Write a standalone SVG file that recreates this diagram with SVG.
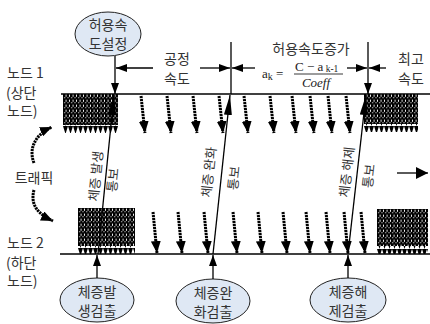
<svg xmlns="http://www.w3.org/2000/svg" width="430" height="324" viewBox="0 0 430 324">
<style>
.lbl{font-family:"Noto Sans CJK KR","Noto Sans",sans-serif;font-size:14px;fill:#333;}
.rot{font-family:"Noto Sans CJK KR","Noto Sans",sans-serif;font-size:13px;fill:#333;}
.fm{font-family:"Liberation Serif",serif;font-size:13px;fill:#222;}
.ln{stroke:#000;stroke-width:1.3;fill:none;}
.dot{stroke:#000;stroke-width:3;stroke-dasharray:2.2 0.8;fill:none;}
.ell{fill:#dfe8f4;stroke:#222;stroke-width:1;}
</style>
<defs>
<marker id="sh" viewBox="0 0 12 10" refX="12" refY="5" markerWidth="12" markerHeight="10" markerUnits="userSpaceOnUse" orient="auto"><path d="M0,0 L12,5 L0,10 z" fill="#000" stroke="none"/></marker>
<marker id="bh" viewBox="0 0 20 8" refX="20" refY="4" markerWidth="20" markerHeight="8" markerUnits="userSpaceOnUse" orient="auto"><path d="M0,0 L20,4 L0,8 z" fill="#000" stroke="none"/></marker>
<marker id="mh" viewBox="0 0 11 8" refX="11" refY="4" markerWidth="11" markerHeight="8" markerUnits="userSpaceOnUse" orient="auto"><path d="M0,0 L11,4 L0,8 z" fill="#000" stroke="none"/></marker>
<marker id="rh" viewBox="0 0 12 12" refX="12" refY="6" markerWidth="12" markerHeight="12" markerUnits="userSpaceOnUse" orient="auto"><path d="M0,0 L12,6 L0,12 z" fill="#000" stroke="none"/></marker>
<pattern id="hatch" width="3.5" height="5" patternUnits="userSpaceOnUse"><rect width="3.5" height="5" fill="#000"/><rect x="2.6" y="0.6" width="0.9" height="2.2" fill="#fff"/><rect x="0.9" y="3.4" width="1.3" height="0.8" fill="#fff"/></pattern>
<pattern id="tri" width="5" height="8" patternUnits="userSpaceOnUse"><polygon points="0,0 5,0 2.5,8" fill="#000"/></pattern>
</defs>

<g id="node1">
<line class="ln" x1="61" y1="94" x2="430" y2="94"/>
<text class="lbl" x="7" y="72" dominant-baseline="central">노드 1</text>
<text class="lbl" x="6" y="92" dominant-baseline="central">(상단</text>
<text class="lbl" x="7" y="110" dominant-baseline="central">노드)</text>
</g>
<g id="node2">
<line class="ln" x1="60" y1="254" x2="430" y2="254"/>
<text class="lbl" x="7" y="242" dominant-baseline="central">노드 2</text>
<text class="lbl" x="6" y="262" dominant-baseline="central">(하단</text>
<text class="lbl" x="7" y="280" dominant-baseline="central">노드)</text>
</g>

<g id="block-top-left" transform="translate(63,94)">
<rect x="0" y="0" width="55" height="31" fill="url(#hatch)"/>
<rect x="0" y="31" width="55" height="8" fill="url(#tri)"/>
</g>
<g id="block-top-right" transform="translate(364,94)">
<rect x="0" y="0" width="54" height="30" fill="url(#hatch)"/>
<rect x="0" y="30" width="54" height="8" fill="url(#tri)"/>
</g>
<g id="block-bottom-left" transform="translate(78,208)">
<rect x="0" y="0" width="57" height="38" fill="url(#hatch)"/>
<rect x="0" y="38" width="57" height="8" fill="url(#tri)"/>
</g>
<g id="block-bottom-right" transform="translate(377,209)">
<rect x="0" y="0" width="51" height="37" fill="url(#hatch)"/>
<rect x="0" y="37" width="51" height="8" fill="url(#tri)"/>
</g>

<g id="set-speed">
<ellipse class="ell" cx="108" cy="34" rx="33" ry="22"/>
<text class="lbl" x="108" y="24" text-anchor="middle" dominant-baseline="central" font-size="13">허용속</text>
<text class="lbl" x="108" y="43" text-anchor="middle" dominant-baseline="central" font-size="13">도설정</text>
</g>
<g id="detect-occur">
<ellipse class="ell" cx="97" cy="300" rx="37" ry="22"/>
<text class="lbl" x="97" y="291" text-anchor="middle" dominant-baseline="central">체증발</text>
<text class="lbl" x="97" y="310" text-anchor="middle" dominant-baseline="central">생검출</text>
</g>
<g id="detect-relief">
<ellipse class="ell" cx="213" cy="301" rx="37" ry="22"/>
<text class="lbl" x="213" y="292" text-anchor="middle" dominant-baseline="central">체증완</text>
<text class="lbl" x="213" y="311" text-anchor="middle" dominant-baseline="central">화검출</text>
</g>
<g id="detect-clear">
<ellipse class="ell" cx="348" cy="300" rx="38" ry="22"/>
<text class="lbl" x="348" y="291" text-anchor="middle" dominant-baseline="central">체증해</text>
<text class="lbl" x="348" y="310" text-anchor="middle" dominant-baseline="central">제검출</text>
</g>

<g id="labels">
<text class="lbl" x="177" y="58" text-anchor="middle" dominant-baseline="central">공정</text>
<text class="lbl" x="177" y="78" text-anchor="middle" dominant-baseline="central">속도</text>
<text class="lbl" x="311" y="48" text-anchor="middle" dominant-baseline="central" font-size="14">허용속도증가</text>
<text class="lbl" x="411" y="58" text-anchor="middle" dominant-baseline="central">최고</text>
<text class="lbl" x="411" y="78" text-anchor="middle" dominant-baseline="central">속도</text>
<text class="lbl" x="34" y="177" text-anchor="middle" dominant-baseline="central" font-size="15">트래픽</text>
<text class="fm" x="262" y="78">a<tspan font-size="10" dy="2">k</tspan><tspan dy="-2"> =</tspan></text>
<text class="fm" x="295" y="71" font-size="12">C − a<tspan font-size="9.5" dy="1"> k-1</tspan></text>
<line x1="294" y1="74" x2="343" y2="74" stroke="#222" stroke-width="0.9"/>
<text class="fm" x="316" y="87" text-anchor="middle" font-style="italic">Coeff</text>
<text class="rot" transform="translate(95,176) rotate(-84.3)" text-anchor="middle" dominant-baseline="central">체증 발생</text>
<text class="rot" transform="translate(112,180) rotate(-84.3)" text-anchor="middle" dominant-baseline="central">통보</text>
<text class="rot" transform="translate(208,172) rotate(-83.9)" text-anchor="middle" dominant-baseline="central">체증 완화</text>
<text class="rot" transform="translate(233,178) rotate(-83.9)" text-anchor="middle" dominant-baseline="central">통보</text>
<text class="rot" transform="translate(346,172) rotate(-83.5)" text-anchor="middle" dominant-baseline="central">체증 해제</text>
<text class="rot" transform="translate(368,176) rotate(-83.5)" text-anchor="middle" dominant-baseline="central">통보</text>
</g>

<g id="connectors">
<path class="dot" marker-end="url(#sh)" d="M141,96 L145,133"/>
<path class="dot" marker-end="url(#sh)" d="M167,96 L171,133"/>
<path class="dot" marker-end="url(#sh)" d="M193,96 L197,133"/>
<path class="dot" marker-end="url(#sh)" d="M219,96 L223,133"/>
<path class="dot" marker-end="url(#sh)" d="M244,96 L248,133"/>
<path class="dot" marker-end="url(#sh)" d="M270,96 L274,133"/>
<path class="dot" marker-end="url(#sh)" d="M292,96 L296,133"/>
<path class="dot" marker-end="url(#sh)" d="M310,96 L314,133"/>
<path class="dot" marker-end="url(#sh)" d="M328,96 L332,133"/>
<path class="dot" marker-end="url(#sh)" d="M346,96 L350,133"/>
<path class="dot" marker-end="url(#sh)" d="M153,212 L157,253"/>
<path class="dot" marker-end="url(#sh)" d="M178,212 L182,253"/>
<path class="dot" marker-end="url(#sh)" d="M204,212 L208,253"/>
<path class="dot" marker-end="url(#sh)" d="M233,212 L237,253"/>
<path class="dot" marker-end="url(#sh)" d="M258,212 L262,253"/>
<path class="dot" marker-end="url(#sh)" d="M283,212 L287,253"/>
<path class="dot" marker-end="url(#sh)" d="M306,212 L310,253"/>
<path class="dot" marker-end="url(#sh)" d="M326,212 L330,253"/>
<path class="dot" marker-end="url(#sh)" d="M344,212 L348,253"/>
<path class="dot" marker-end="url(#sh)" d="M361,212 L365,253"/>
<path class="dot" marker-end="url(#sh)" d="M34,163 C28,148 36,134 52,127"/>
<path class="dot" marker-end="url(#sh)" d="M34,190 C30,205 38,214 53,221"/>
<path class="ln" marker-end="url(#bh)" d="M98,254 L114,95"/>
<path class="ln" marker-end="url(#bh)" d="M213,254 L230,95"/>
<path class="ln" marker-end="url(#bh)" d="M348,254 L366,95"/>
<path class="ln" marker-end="url(#mh)" d="M97,278 L97,255"/>
<path class="ln" marker-end="url(#mh)" d="M213,279 L213,255"/>
<path class="ln" marker-end="url(#mh)" d="M348,278 L348,255"/>
<path class="ln" marker-end="url(#mh)" d="M115,56 L115,94"/>
<path class="ln" d="M231,42 L231,94"/>
<path class="ln" marker-end="url(#mh)" d="M368,42 L368,94"/>
<path class="ln" marker-end="url(#mh)" d="M153,68 L116,68"/>
<path class="ln" marker-end="url(#mh)" d="M200,68 L230,68"/>
<path class="ln" marker-end="url(#mh)" d="M255,68 L232,68"/>
<path class="ln" marker-end="url(#mh)" d="M347,68 L367,68"/>
<path class="ln" marker-end="url(#mh)" d="M386,68 L369,68"/>
<path class="ln" marker-end="url(#rh)" d="M397,173 L428,173"/>
</g>
</svg>
